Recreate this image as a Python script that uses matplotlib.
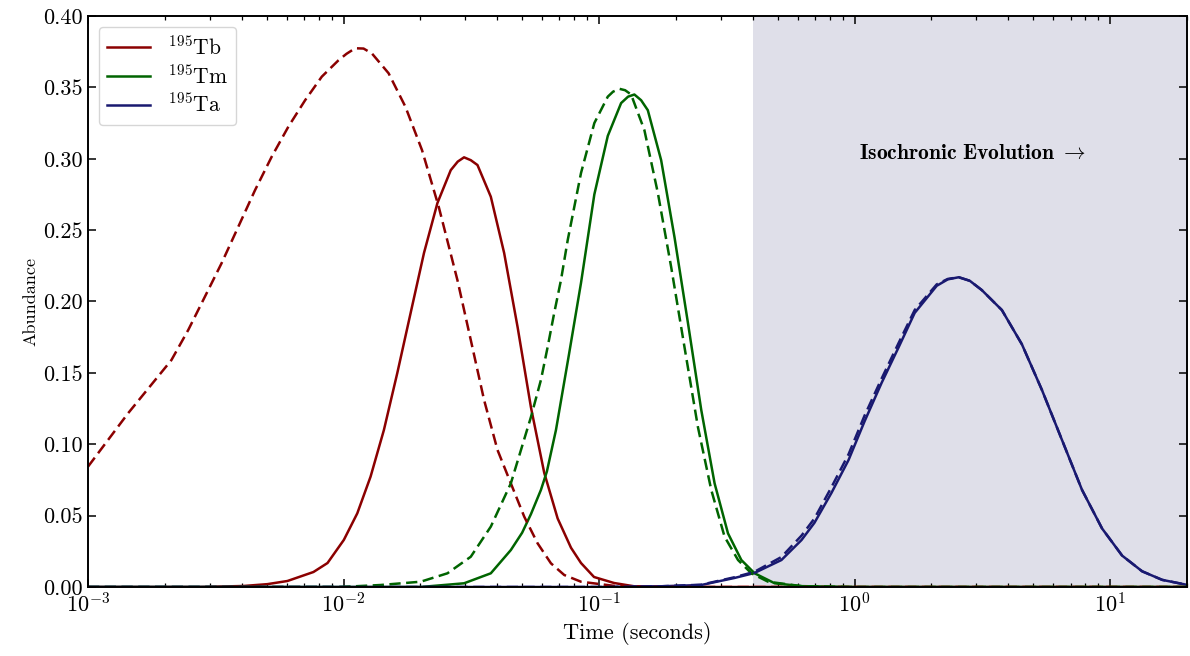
import matplotlib
matplotlib.use("Agg")
import matplotlib.pyplot as plt

plt.rcParams['font.family'] = 'serif'
plt.rcParams['font.serif'] = ['cmr10']
plt.rcParams['mathtext.fontset'] = 'cm'
plt.rcParams['axes.formatter.use_mathtext'] = True
plt.rcParams['axes.unicode_minus'] = False

# ---- data ----
tb_dash_t = [0.001, 0.001435, 0.002121, 0.002467, 0.002868, 0.003332, 0.003875, 0.004505, 0.005234,
             0.006085, 0.007075, 0.008222, 0.009559, 0.01027, 0.01111, 0.01198, 0.01291, 0.01501,
             0.01746, 0.02029, 0.02358, 0.02791, 0.03148, 0.03549, 0.04005, 0.04517, 0.05095,
             0.05748, 0.06482, 0.07309, 0.0850, 0.1144, 0.1599, 1.0, 20.0]
tb_dash_y = [0.0843, 0.1217, 0.159, 0.180, 0.2034, 0.2268, 0.2524, 0.278, 0.3014,
             0.3225, 0.341, 0.3575, 0.369, 0.3735, 0.3774, 0.3772, 0.3738, 0.3599,
             0.3365, 0.306, 0.2664, 0.215, 0.173, 0.131, 0.096, 0.0726, 0.0493,
             0.0306, 0.0166, 0.0084, 0.0037, 0.0008, 0.0, 0.0, 0.0]

tb_t = [0.001, 0.002749, 0.004053, 0.005035, 0.006031, 0.007626, 0.008657, 0.01003, 0.01132, 0.01276,
        0.01439, 0.01624, 0.01831, 0.02065, 0.02331, 0.02628, 0.02799, 0.02963, 0.03148, 0.03344,
        0.03771, 0.04252, 0.04801, 0.05412, 0.06102, 0.06887, 0.07767, 0.0850, 0.09559, 0.1145,
        0.1372, 0.2097, 20.0]
tb_y = [0.0, 0.0, 0.0007, 0.002, 0.0042, 0.0105, 0.0168, 0.033, 0.0516, 0.0773,
        0.110, 0.150, 0.192, 0.234, 0.269, 0.292, 0.298, 0.301, 0.299, 0.2956,
        0.2734, 0.234, 0.182, 0.126, 0.080, 0.048, 0.0275, 0.0168, 0.007, 0.0028,
        0.0005, 0.0, 0.0]

tm_dash_t = [0.001, 0.009732, 0.01397, 0.02004, 0.02551, 0.03148, 0.03771, 0.04517, 0.05412, 0.05923,
             0.06291, 0.06677, 0.07096, 0.07540, 0.0850, 0.09585, 0.1082, 0.1135, 0.1201, 0.1265,
             0.1335, 0.1505, 0.1699, 0.1916, 0.2160, 0.2438, 0.2749, 0.3100, 0.3499, 0.3946,
             0.4588, 0.620, 0.973, 20.0]
tm_dash_y = [0.0, 0.0, 0.0014, 0.0037, 0.0096, 0.0212, 0.0423, 0.0726, 0.119, 0.145,
             0.168, 0.192, 0.215, 0.243, 0.290, 0.325, 0.3435, 0.347, 0.349, 0.348,
             0.345, 0.320, 0.276, 0.224, 0.168, 0.112, 0.068, 0.0352, 0.0189, 0.0096,
             0.0037, 0.0006, 0.0, 0.0]

tm_t = [0.001, 0.02004, 0.02963, 0.03771, 0.04517, 0.05000, 0.05412, 0.05923, 0.06252, 0.06783,
        0.07628, 0.0850, 0.09585, 0.1082, 0.1220, 0.1299, 0.1375, 0.1461, 0.1552, 0.1750,
        0.1974, 0.2228, 0.2512, 0.2833, 0.3196, 0.3605, 0.4064, 0.4870, 0.620, 0.973, 20.0]
tm_y = [0.0, 0.0, 0.0026, 0.0096, 0.0259, 0.038, 0.051, 0.068, 0.081, 0.110,
        0.163, 0.213, 0.275, 0.316, 0.339, 0.3435, 0.345, 0.341, 0.334, 0.299,
        0.245, 0.185, 0.124, 0.0726, 0.0376, 0.0189, 0.0096, 0.0026, 0.0006, 0.0, 0.0]

ta_t = [0.001, 0.10, 0.175, 0.2512, 0.3384, 0.4053, 0.5173, 0.620, 0.6967, 0.8125, 0.9474, 1.094,
        1.276, 1.488, 1.719, 2.097, 2.316, 2.557, 2.825, 3.148, 3.772, 4.518, 5.412, 6.483,
        7.767, 9.303, 11.145, 13.35, 15.99, 20.0]
ta_y = [0.0, 0.0, 0.0005, 0.0014, 0.0063, 0.0098, 0.0189, 0.0329, 0.045, 0.066, 0.089, 0.116,
        0.143, 0.168, 0.192, 0.211, 0.2155, 0.217, 0.2145, 0.208, 0.194, 0.170, 0.138, 0.103,
        0.068, 0.041, 0.022, 0.011, 0.005, 0.0015]

ta_dash_t = ta_t
ta_dash_y = [0.0, 0.0, 0.0005, 0.0016, 0.0068, 0.0106, 0.021, 0.036, 0.048, 0.070, 0.093, 0.120,
             0.146, 0.171, 0.194, 0.212, 0.2158, 0.217, 0.2145, 0.208, 0.194, 0.170, 0.138, 0.103,
             0.068, 0.041, 0.022, 0.011, 0.005, 0.0015]

labels = [r"$^{195}$Tb", r"$^{195}$Tm", r"$^{195}$Ta"]
colors = ["#8B0000", "#006400", "#191970"]
iso_start = 0.4
x_limits = (1e-3, 20)
y_limits = (0.0, 0.40)
y_ticks = [0.0, 0.05, 0.10, 0.15, 0.20, 0.25, 0.30, 0.35, 0.40]
y_ticklabels = ["0.00", "0.05", "0.10", "0.15", "0.20", "0.25", "0.30", "0.35", "0.40"]
annot_text = r"$\mathbf{Isochronic\ Evolution}\ \rightarrow$"
annot_pos = (2.9, 0.304)

# ---- plot ----
fig = plt.figure(figsize=(11.9, 6.56), dpi=100)
ax = fig.add_axes([88/1190, 1-587/656, (1187-88)/1190, (587-16)/656])

ax.axvspan(iso_start, x_limits[1], color="#dfdfe9", zorder=0, lw=0)

lw = 1.8
dash = (0, (4.5, 2.2))
ax.plot(tb_t, tb_y, color=colors[0], lw=lw, label=labels[0])
ax.plot(tm_t, tm_y, color=colors[1], lw=lw, label=labels[1])
ax.plot(ta_t, ta_y, color=colors[2], lw=lw, label=labels[2])
ax.plot(tb_dash_t, tb_dash_y, color=colors[0], lw=lw, ls=dash)
ax.plot(tm_dash_t, tm_dash_y, color=colors[1], lw=lw, ls=dash)
ax.plot(ta_dash_t, ta_dash_y, color=colors[2], lw=lw, ls=dash)

ax.set_xscale("log")
ax.set_xlim(*x_limits)
ax.set_ylim(*y_limits)
ax.set_yticks(y_ticks)
ax.set_yticklabels(y_ticklabels)

ax.tick_params(which="both", direction="in", top=True, right=True, labelsize=16)
ax.tick_params(which="major", length=6, width=1.1)
ax.tick_params(which="minor", length=3, width=0.9)
for s in ax.spines.values():
    s.set_linewidth(1.4)

ax.set_xlabel("Time (seconds)", fontsize=16)
ax.set_ylabel("Abundance", fontsize=13)

ax.text(annot_pos[0], annot_pos[1], annot_text, fontsize=15.5, ha="center", va="center")

leg = ax.legend(loc="upper left", fontsize=15.5, frameon=True, handlelength=2.0, labelspacing=0.25)
leg.get_frame().set_edgecolor("#cccccc")

fig.savefig("out.png", dpi=100)
